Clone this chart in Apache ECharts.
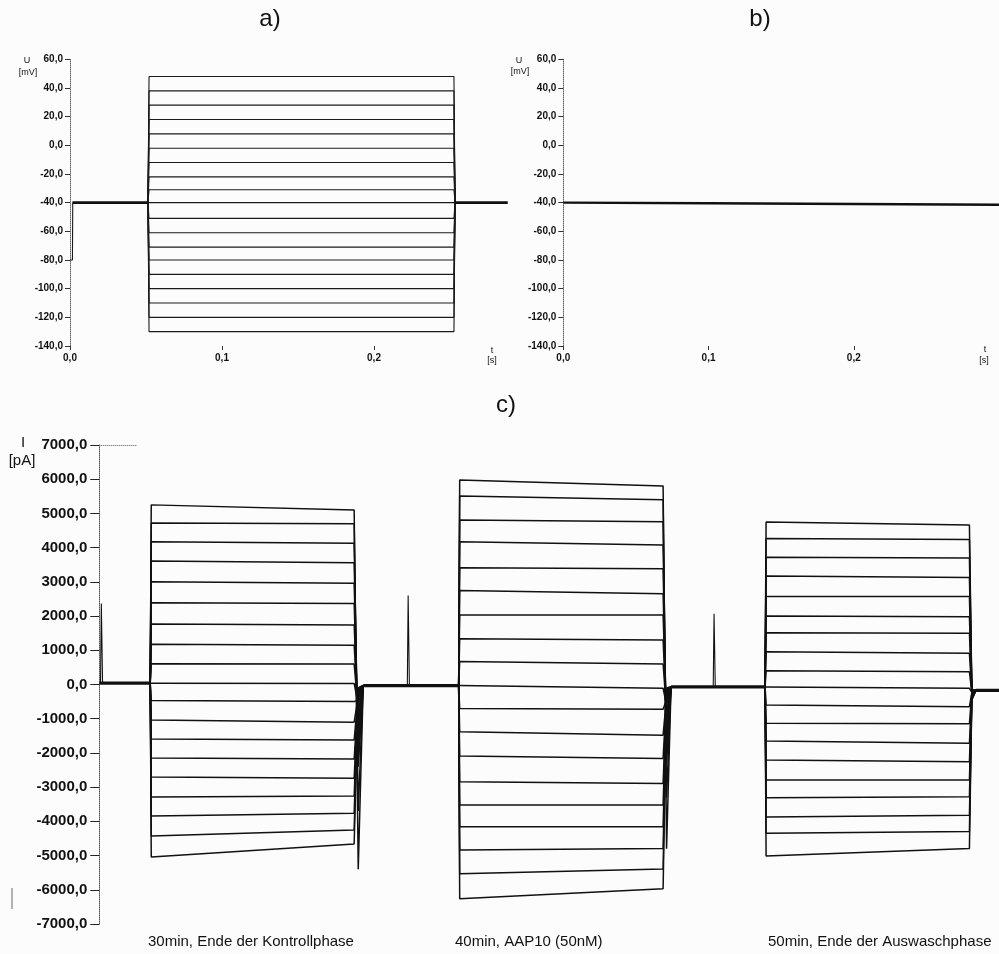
<!DOCTYPE html>
<html>
<head>
<meta charset="utf-8">
<script src="https://cdn.jsdelivr.net/npm/echarts@6/dist/echarts.min.js"></script>
<style>
  html, body { margin: 0; padding: 0; background: #fcfcfc; }
  #chart { width: 999px; height: 954px; }
</style>
</head>
<body>
<div id="chart"></div>
<script>
// ---------- a) voltage protocol, cell 1 (mV, s) ----------
const holdingPotential = -40;
const prePulsePotential = -80;
const prePulseEnd = 0.0016;
const stepOn = 0.0513;
const stepOff = 0.2526;
const sweepEnd = 0.288;
const stepLevels = [48, 38, 28, 18, 8, -2, -12, -22, -31, -40, -51, -61, -71, -80, -90, -100, -110, -120, -130];

// ---------- b) voltage, cell 2 (mV, s) ----------
const cell2Time = [0, 0.1, 0.2, 0.3];
const cell2Voltage = [-40, -40.4, -40.9, -41.5];

// ---------- c) junctional current (pA) ----------
const blockOn = [0.0501, 0.3535, 0.6549];
const blockOff = [0.2507, 0.5546, 0.8559];
const tailTime = [0.2547, 0.5580, 0.8584];
const recoverTime = [0.2596, 0.5624, 0.8623];
const currentEnd = 0.885;
const baselineCurrent = [40, -30, -70, -170];
const spikeTime = [0.002, 0.3038, 0.6047];
const spikePeak = [2370, 2600, 2070];

const block1Start = [5250, 4720, 4170, 3610, 3000, 2390, 1770, 1180, 610, 60, -470, -1040, -1590, -2150, -2700, -3290, -3840, -4430, -5040];
const block1End = [5100, 4700, 4130, 3560, 2960, 2370, 1740, 1150, 600, 30, -500, -1100, -1620, -2180, -2740, -3260, -3760, -4250, -4660];
const block1Tail = [-5400, -3700, -2400, -2100, -1800, -1500, -1200, -1000, -800, -600, -450, -350, -300, -250, -200, -150, -150, -100, -100];

const block2Start = [5980, 5510, 4810, 4170, 3410, 2750, 2030, 1340, 670, -60, -700, -1380, -2090, -2840, -3520, -4160, -4840, -5530, -6260];
const block2End = [5800, 5400, 4760, 4080, 3380, 2650, 2030, 1300, 600, -110, -720, -1480, -2160, -2890, -3520, -4160, -4790, -5390, -5970];
const block2Tail = [-4800, -3300, -2300, -2000, -1700, -1400, -1200, -1000, -800, -600, -450, -350, -300, -250, -200, -150, -150, -100, -100];

const block3Start = [4750, 4270, 3720, 3170, 2570, 2000, 1515, 960, 400, -110, -600, -1130, -1650, -2210, -2790, -3310, -3870, -4350, -5010];
const block3End = [4660, 4240, 3700, 3130, 2570, 1980, 1500, 910, 375, -110, -650, -1150, -1720, -2260, -2790, -3280, -3820, -4300, -4790];
const block3Tail = [-450, -420, -400, -380, -350, -330, -300, -280, -260, -240, -220, -200, -200, -180, -180, -170, -170, -170, -170];

const yTicksVoltage = { min: -140, max: 60, interval: 20 };
const yTicksCurrent = { min: -7000, max: 7000, interval: 1000 };
const timeTickValues = [0, 0.1, 0.2];

const captions = ['30min, Ende der Kontrollphase', '40min, AAP10 (50nM)', '50min, Ende der Auswaschphase'];

// ---------- helpers ----------
const INK = '#111';
const commaFmt = v => v.toFixed(1).replace('.', ',');
const labelFont = 'Liberation Sans';

function lineSeries(xi, yi, data, width, color) {
  return {
    type: 'line', xAxisIndex: xi, yAxisIndex: yi, data: data,
    symbol: 'none', silent: true, animation: false,
    lineStyle: { color: color || INK, width: width }
  };
}

const series = [];

// a) step traces
stepLevels.forEach(level => {
  series.push(lineSeries(0, 0, [
    [stepOn, holdingPotential], [stepOn + 0.0007, level],
    [stepOff, level], [stepOff + 0.0007, holdingPotential]
  ], 1.1, '#1a1a1a'));
});
series.push(lineSeries(0, 0, [
  [0, prePulsePotential], [prePulseEnd, prePulsePotential], [prePulseEnd + 0.0002, holdingPotential]
], 1.1, '#1a1a1a'));
series.push(lineSeries(0, 0, [[prePulseEnd, holdingPotential], [stepOn, holdingPotential]], 2.6));
series.push(lineSeries(0, 0, [[stepOff, holdingPotential], [sweepEnd, holdingPotential]], 2.6));

// b) cell 2 voltage
series.push(lineSeries(1, 1, cell2Time.map((t, i) => [t, cell2Voltage[i]]), 2.4));

// c) current traces
const blocks = [
  [block1Start, block1End, block1Tail],
  [block2Start, block2End, block2Tail],
  [block3Start, block3End, block3Tail]
];
blocks.forEach((b, k) => {
  const [startVals, endVals, tailVals] = b;
  startVals.forEach((s, i) => {
    series.push(lineSeries(2, 2, [
      [blockOn[k], baselineCurrent[k]],
      [blockOn[k] + 0.001, s],
      [blockOff[k], endVals[i]],
      [tailTime[k], tailVals[i]],
      [recoverTime[k], baselineCurrent[k + 1]]
    ], 1.5));
  });
  // capacitive spike at sweep start
  const base = baselineCurrent[k];
  series.push(lineSeries(2, 2, [
    [spikeTime[k] - 0.0008, base], [spikeTime[k], spikePeak[k]], [spikeTime[k] + 0.0012, base]
  ], 1.1));
});
// c) holding current between pulses (many overlapping sweeps -> thick)
const holdSegs = [
  [[0, baselineCurrent[0]], [blockOn[0], baselineCurrent[0]]],
  [[recoverTime[0], baselineCurrent[1]], [blockOn[1], baselineCurrent[1]]],
  [[recoverTime[1], baselineCurrent[2]], [blockOn[2], baselineCurrent[2]]],
  [[recoverTime[2], baselineCurrent[3]], [currentEnd, baselineCurrent[3]]]
];
holdSegs.forEach((seg, i) => {
  const s = lineSeries(2, 2, seg, 3.2);
  if (i === 0) {
    s.markLine = {
      silent: true, symbol: 'none', animation: false, label: { show: false },
      lineStyle: { type: 'dotted', color: '#555', width: 1 },
      data: [[{ coord: [0, yTicksCurrent.max] }, { coord: [0.0374, yTicksCurrent.max] }]]
    };
  }
  series.push(s);
});

function voltageY(left) {
  return {
    type: 'value', gridIndex: left, min: yTicksVoltage.min, max: yTicksVoltage.max, interval: yTicksVoltage.interval,
    axisLine: { show: true, onZero: false, lineStyle: { color: '#666', width: 1, type: 'dotted' } },
    axisTick: { show: true, length: 5, lineStyle: { color: '#333' } },
    axisLabel: { formatter: commaFmt, margin: 7, fontFamily: labelFont, fontWeight: 'bold', fontSize: 10, color: INK },
    splitLine: { show: false }
  };
}
function timeX(grid) {
  return {
    type: 'value', gridIndex: grid, min: 0, max: 0.3, position: 'bottom',
    axisLine: { show: false, onZero: false },
    axisTick: { show: true, length: 4, customValues: timeTickValues, lineStyle: { color: '#333' } },
    axisLabel: { customValues: timeTickValues, formatter: commaFmt, margin: 7, fontFamily: labelFont, fontWeight: 'bold', fontSize: 10, color: INK },
    splitLine: { show: false }
  };
}

function txt(x, y, text, size, align, weight) {
  return {
    type: 'text', x: x, y: y, silent: true,
    style: {
      text: text, fill: INK, font: (weight || 'normal') + ' ' + size + 'px "Liberation Sans", Arial, sans-serif',
      align: align || 'center', textAlign: align || 'center',
      verticalAlign: 'middle', textVerticalAlign: 'middle'
    }
  };
}

const option = {
  backgroundColor: '#fcfcfc',
  animation: false,
  grid: [
    { left: 70, top: 59.3, width: 456, height: 286.7 },
    { left: 563.3, top: 59.3, width: 456, height: 286.7 },
    { left: 99.3, top: 445, width: 900, height: 479 }
  ],
  xAxis: [
    timeX(0),
    timeX(1),
    { type: 'value', gridIndex: 2, min: 0, max: currentEnd, show: false }
  ],
  yAxis: [
    voltageY(0),
    voltageY(1),
    {
      type: 'value', gridIndex: 2, min: yTicksCurrent.min, max: yTicksCurrent.max, interval: yTicksCurrent.interval,
      axisLine: { show: true, onZero: false, lineStyle: { color: '#555', width: 1, type: 'dotted' } },
      axisTick: { show: true, length: 9, lineStyle: { color: '#222' } },
      axisLabel: { formatter: commaFmt, margin: 12, fontFamily: labelFont, fontWeight: 'bold', fontSize: 15, color: INK },
      splitLine: { show: false }
    }
  ],
  series: series,
  graphic: [
    txt(270, 19, 'a)', 24),
    txt(760, 19, 'b)', 24),
    txt(506, 405, 'c)', 24),
    txt(27, 61, 'U', 9), txt(28, 73, '[mV]', 9),
    txt(519, 61, 'U', 9), txt(520, 72, '[mV]', 9),
    txt(492, 351, 't', 9), txt(492, 361, '[s]', 9),
    txt(985, 350, 't', 9), txt(984, 361, '[s]', 9),
    txt(23, 443, 'I', 15), txt(22, 461, '[pA]', 15),
    txt(148, 942, captions[0], 15, 'left'),
    txt(455, 942, captions[1], 15, 'left'),
    txt(768, 942, captions[2], 15, 'left'),
    { type: 'line', silent: true, shape: { x1: 12, y1: 888, x2: 12, y2: 909 }, style: { stroke: '#666', lineWidth: 1 } }
  ]
};

const chart = echarts.init(document.getElementById('chart'), null, { renderer: 'canvas' });
chart.setOption(option);
</script>
</body>
</html>
